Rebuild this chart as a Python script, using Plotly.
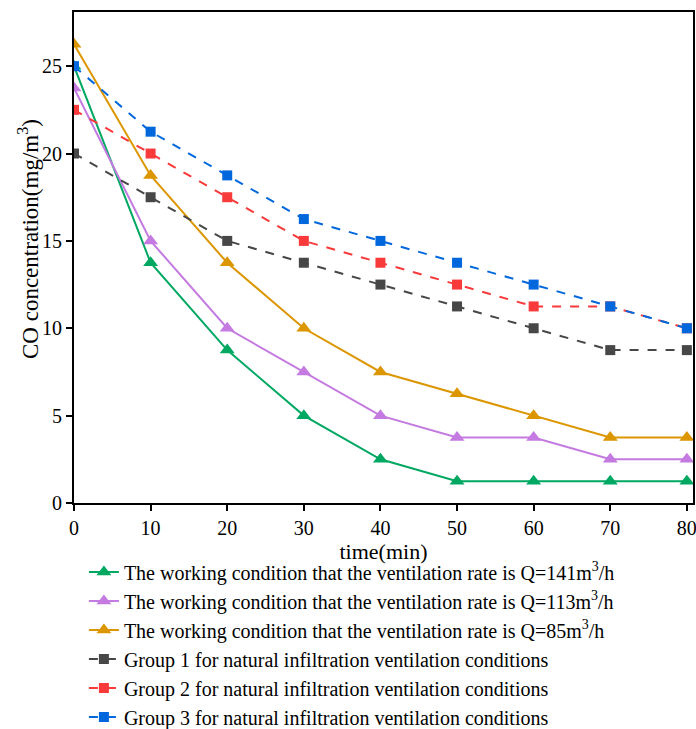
import plotly.graph_objects as go

time = [0, 10, 20, 30, 40, 50, 60, 70, 80]
q141 = [25, 13.75, 8.75, 5, 2.5, 1.25, 1.25, 1.25, 1.25]
q113 = [23.75, 15, 10, 7.5, 5, 3.75, 3.75, 2.5, 2.5]
q85 = [26.25, 18.75, 13.75, 10, 7.5, 6.25, 5, 3.75, 3.75]
group1 = [20, 17.5, 15, 13.75, 12.5, 11.25, 10, 8.75, 8.75]
group2 = [22.5, 20, 17.5, 15, 13.75, 12.5, 11.25, 11.25, 10]
group3 = [25, 21.25, 18.75, 16.25, 15, 13.75, 12.5, 11.25, 10]

names = [
    "The working condition that the ventilation rate is Q=141m<sup>3</sup>/h",
    "The working condition that the ventilation rate is Q=113m<sup>3</sup>/h",
    "The working condition that the ventilation rate is Q=85m<sup>3</sup>/h",
    "Group 1 for natural infiltration ventilation conditions",
    "Group 2 for natural infiltration ventilation conditions",
    "Group 3 for natural infiltration ventilation conditions",
]

FONT = "Liberation Serif, Times New Roman, serif"

fig = go.Figure()
tri = [(q141, "#00a862"), (q113, "#c47ae0"), (q85, "#dc9600")]
for (ys, c), n in zip(tri, names[:3]):
    fig.add_trace(go.Scatter(x=time, y=ys, name=n, mode="lines+markers",
                             line=dict(color=c, width=2),
                             marker=dict(symbol="triangle-up", size=13, color=c)))
sq = [(group1, "#474747"), (group2, "#f83a3a"), (group3, "#0068dc")]
for (ys, c), n in zip(sq, names[3:]):
    fig.add_trace(go.Scatter(x=time, y=ys, name=n, mode="lines+markers",
                             line=dict(color=c, width=2, dash="dash"),
                             marker=dict(symbol="square", size=10, color=c)))

fig.update_layout(
    width=696, height=729,
    margin=dict(l=74, r=3, t=12, b=226, autoexpand=False),
    paper_bgcolor="white", plot_bgcolor="white",
    font=dict(family=FONT, size=20, color="black"),
    showlegend=True,
    legend=dict(x=0.016, xanchor="left", y=-0.101, yanchor="top",
                font=dict(family=FONT, size=20, color="black"),
                tracegroupgap=0, itemwidth=30, bgcolor="rgba(0,0,0,0)"),
    xaxis=dict(range=[0, 80.8], tickvals=[0, 10, 20, 30, 40, 50, 60, 70, 80],
               showgrid=False, zeroline=False, showline=True, linecolor="black",
               linewidth=2, mirror=True, ticks="outside", ticklen=6, tickwidth=2,
               tickcolor="black", tickfont=dict(size=20), ticklabeloverflow="allow",
               title=dict(text="time(min)", font=dict(size=22), standoff=0)),
    yaxis=dict(range=[0, 28.1], tickvals=[0, 5, 10, 15, 20, 25],
               showgrid=False, zeroline=False, showline=True, linecolor="black",
               linewidth=2, mirror=True, ticks="outside", ticklen=6, tickwidth=2,
               tickcolor="black", tickfont=dict(size=20)),
    annotations=[dict(text="CO concentration(mg/m<sup>3</sup>)", xref="paper", yref="paper",
                      x=(28 - 74) / 619, y=(503 - 239) / 491, xanchor="center", yanchor="middle",
                      textangle=-90, showarrow=False, font=dict(family=FONT, size=23, color="black"))],
)

fig.write_html("out.html")
